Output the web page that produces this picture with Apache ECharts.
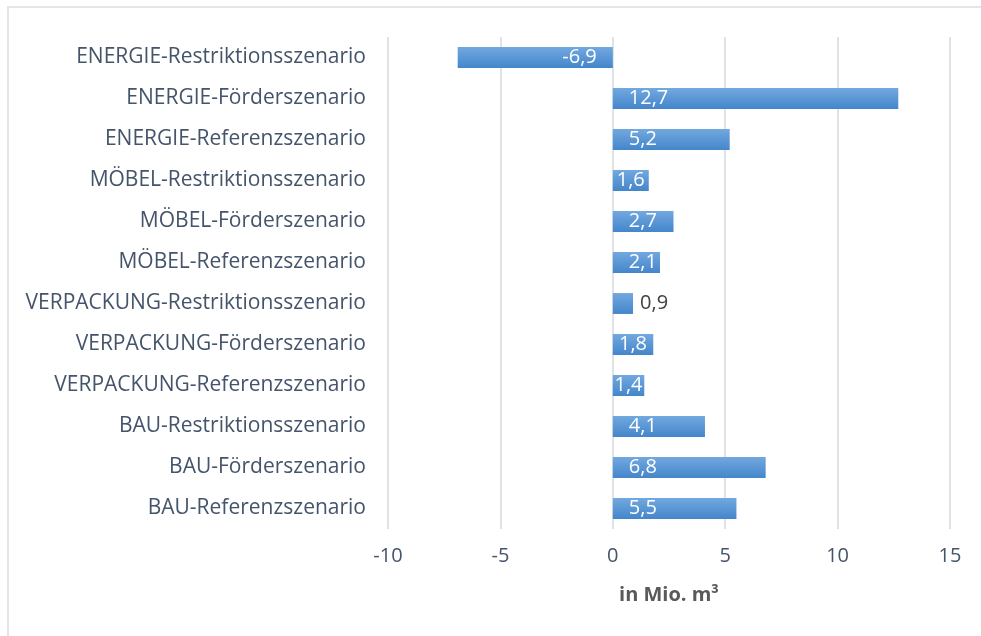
<!DOCTYPE html>
<html>
<head>
<meta charset="utf-8">
<script src="https://cdn.jsdelivr.net/npm/echarts@6/dist/echarts.min.js"></script>
<style>
  html, body { margin: 0; padding: 0; background: #fff; }
  #chart { width: 981px; height: 636px; }
</style>
</head>
<body>
<div id="chart"></div>
<script>
// categories from bottom to top
const categories = [
  'BAU-Referenzszenario',
  'BAU-Förderszenario',
  'BAU-Restriktionsszenario',
  'VERPACKUNG-Referenzszenario',
  'VERPACKUNG-Förderszenario',
  'VERPACKUNG-Restriktionsszenario',
  'MÖBEL-Referenzszenario',
  'MÖBEL-Förderszenario',
  'MÖBEL-Restriktionsszenario',
  'ENERGIE-Referenzszenario',
  'ENERGIE-Förderszenario',
  'ENERGIE-Restriktionsszenario'
];
const values = [5.5, 6.8, 4.1, 1.4, 1.8, 0.9, 2.1, 2.7, 1.6, 5.2, 12.7, -6.9];
const axisName = 'in Mio. m³';

const font = 'Open Sans';
const textColor = '#44546a';

// label placement like Excel "inside base"; short bars get the label centred
function labelFor(v) {
  if (v < 0) return { position: 'insideRight', distance: 16 };
  if (v < 1) return { position: 'right', distance: 7, color: '#404040' };
  if (v < 2) return { position: 'inside' };
  return { position: 'insideLeft', distance: 16 };
}

const chart = echarts.init(document.getElementById('chart'));
chart.setOption({
  animation: false,
  textStyle: { fontFamily: font },
  graphic: [{
    type: 'rect',
    shape: { x: 8, y: 7, width: 1000, height: 700 },
    style: { fill: 'none', stroke: '#d9dde3', lineWidth: 1.5 },
    silent: true
  }],
  grid: { left: 388, right: 31, top: 37, bottom: 107 },
  xAxis: {
    type: 'value',
    min: -10,
    max: 15,
    interval: 5,
    name: axisName,
    nameLocation: 'middle',
    nameGap: 56,
    nameTextStyle: { color: '#595959', fontSize: 20, fontWeight: 'bold', fontFamily: font },
    axisLine: { show: false },
    axisTick: { show: false },
    axisLabel: { color: textColor, fontSize: 20, margin: 17, fontFamily: font },
    splitLine: { lineStyle: { color: '#dfe3e8', width: 2 } }
  },
  yAxis: {
    type: 'category',
    data: categories,
    axisLine: { show: false },
    axisTick: { show: false },
    axisLabel: { color: textColor, fontSize: 21, margin: 22, fontFamily: font }
  },
  series: [{
    type: 'bar',
    barWidth: '51%',
    data: values.map(v => ({ value: v, label: labelFor(v) })),
    itemStyle: {
      color: new echarts.graphic.LinearGradient(0, 0, 0, 1, [
        { offset: 0, color: '#72a8df' },
        { offset: 1, color: '#4486cb' }
      ])
    },
    label: {
      show: true,
      color: '#ffffff',
      fontSize: 20,
      fontFamily: font,
      overflow: 'none',
      formatter: p => String(p.value).replace('.', ',')
    },
    labelLayout: { hideOverlap: false }
  }]
});
</script>
</body>
</html>
